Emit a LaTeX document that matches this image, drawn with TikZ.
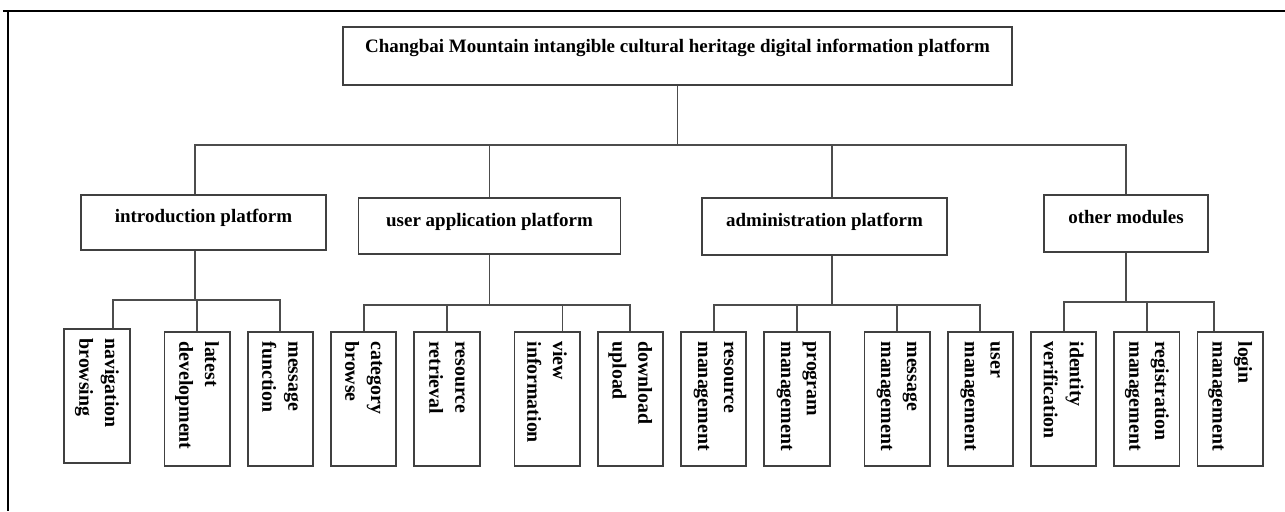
\documentclass[tikz,border=0pt]{standalone}
\usepackage{fontspec}
\setmainfont{Liberation Serif}
\usepackage{graphicx}
\usetikzlibrary{positioning}
\newcommand{\leaftext}[2]{\rotatebox{-90}{\parbox{2.3cm}{\raggedright #1\\#2}}}

\begin{document}
\begin{tikzpicture}[
        box/.style={draw=black!75, line width=1pt, font=\fontsize{10.8}{13}\selectfont\bfseries, text height=0.25cm, text depth=0.25cm},
        leaf/.style={draw=black!75, line width=1pt, minimum width=1.306cm, minimum height=2.68cm, inner sep=0pt, font=\fontsize{11.3}{14.7}\selectfont\bfseries},
        link/.style={black!70, line width=1pt}]
        \useasboundingbox (0,0) rectangle (25.7,-10.22);
        \draw [line width=1.4pt] (0.06,-0.22) -- (25.7,-0.22);
        \draw [line width=1.4pt] (0.16,-0.22) -- (0.16,-10.22);

        \node [box, minimum width=13.38cm, minimum height=1.16cm, text height=0.26cm, text depth=0.38cm] (top) at (13.55,-1.12) {Changbai Mountain intangible cultural heritage digital information platform};

        \node [box, minimum width=4.9cm, minimum height=1.1cm] (intro) at (4.07,-4.45) {introduction platform};
        \node [box, minimum width=5.24cm, minimum height=1.12cm] (user) at (9.79,-4.52) {user application platform};
        \node [box, minimum width=4.9cm, minimum height=1.14cm] (admin) at (16.49,-4.53) {administration platform};
        \node [box, minimum width=3.27cm, minimum height=1.14cm] (other) at (22.52,-4.47) {other modules};

        \node [leaf] (navi) at (1.94,-7.92) {\leaftext{navigation}{browsing}};
        \node [leaf, right=0.66cm of navi, yshift=-0.06cm] (latest) {\leaftext{latest}{development}};
        \node [leaf, right=0.325cm of latest] (msgfn) {\leaftext{message}{function}};
        \node [leaf, right=0.325cm of msgfn] (catbr) {\leaftext{category}{browse}};
        \node [leaf, right=0.325cm of catbr] (resret) {\leaftext{resource}{retrieval}};
        \node [leaf, right=0.66cm of resret] (view) {\leaftext{view}{information}};
        \node [leaf, right=0.325cm of view] (down) {\leaftext{download}{upload}};
        \node [leaf, right=0.325cm of down] (resmg) {\leaftext{resource}{management}};
        \node [leaf, right=0.325cm of resmg] (progmg) {\leaftext{program}{management}};
        \node [leaf, right=0.66cm of progmg] (msgmg) {\leaftext{message}{management}};
        \node [leaf, right=0.325cm of msgmg] (usermg) {\leaftext{user}{management}};
        \node [leaf, right=0.325cm of usermg] (ident) {\leaftext{identity}{verification}};
        \node [leaf, right=0.325cm of ident] (regmg) {\leaftext{registration}{management}};
        \node [leaf, right=0.325cm of regmg] (loginmg) {\leaftext{login}{management}};

        \coordinate (bus) at (0,-2.9);
        \coordinate (s1) at (0,-6.0);
        \coordinate (s2) at (0,-6.1);
        \coordinate (s3) at (0,-6.1);
        \coordinate (s4) at (0,-6.04);

        % top level
        \draw [link] (top.south) -- (top.south |- bus);
        \draw [link] ([xshift=-0.17cm]intro.north) |- (other.north |- bus) -- (other.north);
        \draw [link] (user.north) -- (user.north |- bus);
        \draw [link] ([xshift=0.15cm]admin.north) -- ([xshift=0.15cm]admin.north |- bus);

        % introduction platform
        \draw [link] ([xshift=-0.17cm]intro.south) -- ([xshift=-0.17cm]intro.south |- s1);
        \draw [link] ([xshift=0.32cm]navi.north) |- (msgfn.north |- s1) -- (msgfn.north);
        \draw [link] (latest.north) -- (latest.north |- s1);

        % user application platform
        \draw [link] (user.south) -- (user.south |- s2);
        \draw [link] (catbr.north) |- (down.north |- s2) -- (down.north);
        \draw [link] (resret.north) -- (resret.north |- s2);
        \draw [link] ([xshift=0.31cm]view.north) -- ([xshift=0.31cm]view.north |- s2);

        % administration platform
        \draw [link] ([xshift=0.15cm]admin.south) -- ([xshift=0.15cm]admin.south |- s3);
        \draw [link] (resmg.north) |- (usermg.north |- s3) -- (usermg.north);
        \draw [link] (progmg.north) -- (progmg.north |- s3);
        \draw [link] (msgmg.north) -- (msgmg.north |- s3);

        % other modules
        \draw [link] (other.south) -- (other.south |- s4);
        \draw [link] (ident.north) |- ([xshift=-0.32cm]loginmg.north |- s4) -- ([xshift=-0.32cm]loginmg.north);
        \draw [link] (regmg.north) -- (regmg.north |- s4);
\end{tikzpicture}
\end{document}
